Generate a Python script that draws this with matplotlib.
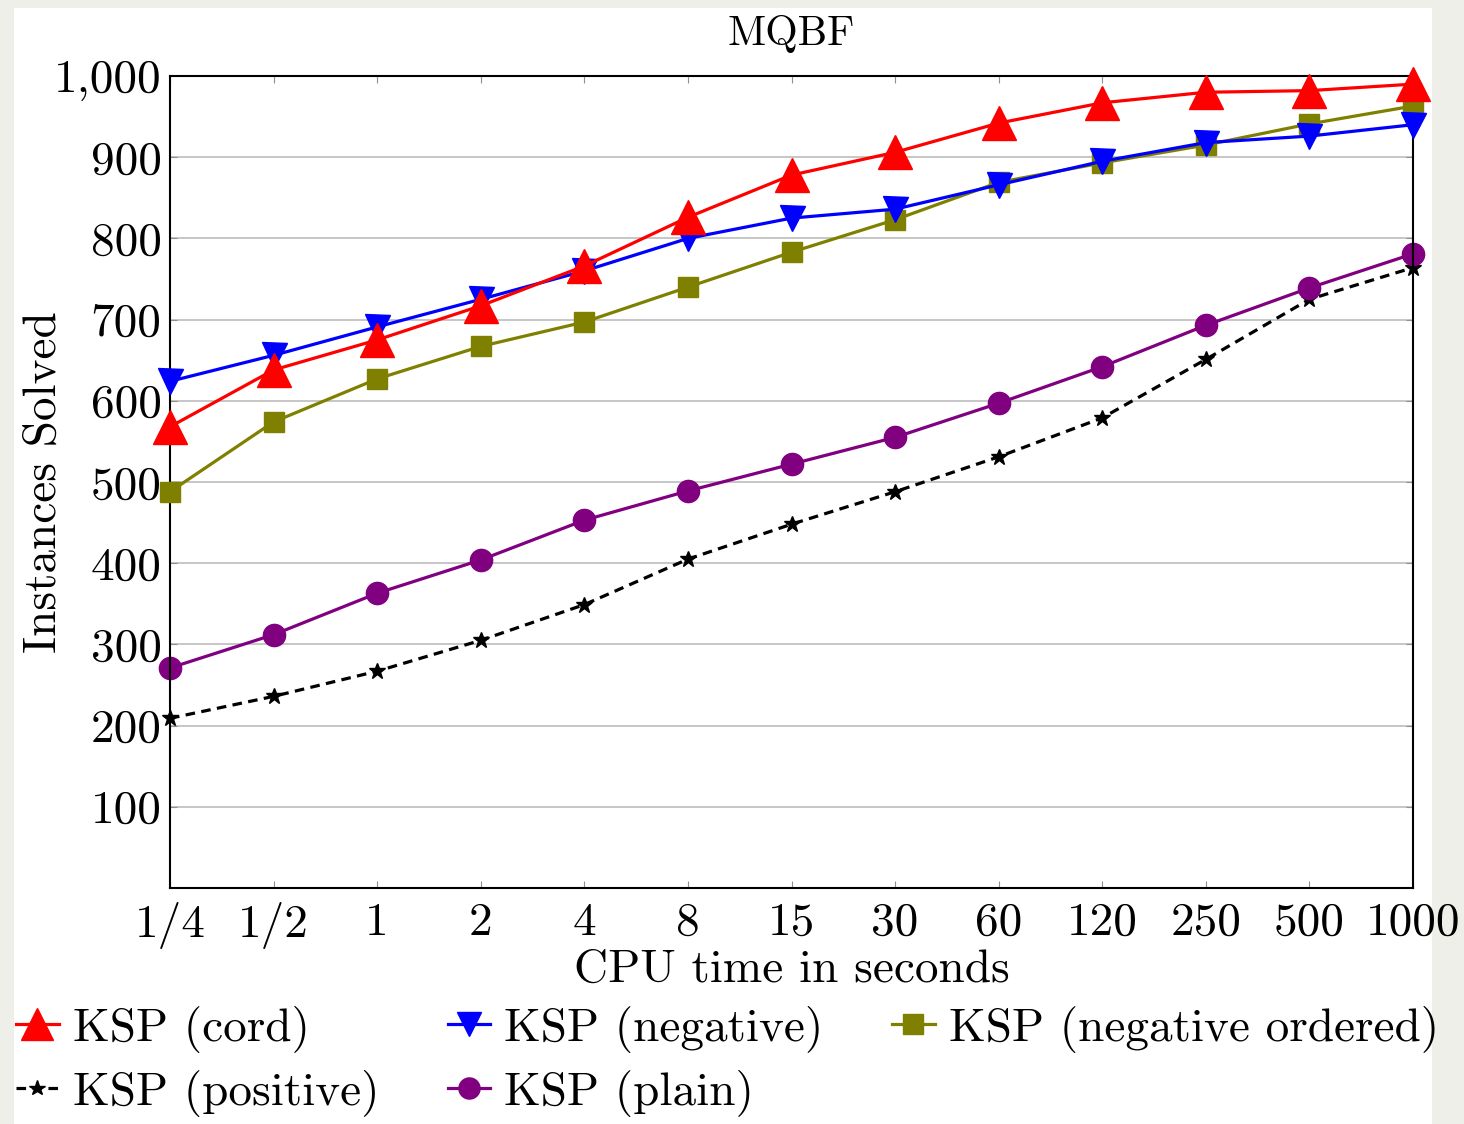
import matplotlib
matplotlib.use("Agg")
import matplotlib.pyplot as plt
from matplotlib.patches import Rectangle

plt.rcParams['font.family'] = ['cmr10', 'DejaVu Serif']
plt.rcParams['axes.formatter.use_mathtext'] = True
plt.rcParams['mathtext.fontset'] = 'cm'

# data
time_labels = ["1/4", "1/2", "1", "2", "4", "8", "15", "30", "60", "120", "250", "500", "1000"]
ksp_cord = [568, 638, 675, 717, 766, 826, 878, 906, 942, 967, 980, 982, 990]
ksp_negative = [624, 656, 691, 725, 760, 800, 825, 836, 866, 895, 918, 926, 940]
ksp_neg_ordered = [488, 574, 627, 667, 697, 740, 783, 823, 869, 893, 915, 941, 963]
ksp_positive = [209, 236, 267, 305, 349, 405, 448, 488, 531, 579, 651, 725, 764]
ksp_plain = [271, 312, 363, 404, 453, 489, 522, 555, 597, 642, 693, 739, 781]

y_ticks = [100, 200, 300, 400, 500, 600, 700, 800, 900, 1000]
y_tick_labels = ["100", "200", "300", "400", "500", "600", "700", "800", "900", "1,000"]

fig = plt.figure(figsize=(14.64, 11.24), dpi=100, facecolor='#efefea')
# white page area inside the grey surround
fig.patches.append(Rectangle((14 / 1464, 0), (1432 - 14) / 1464, 1 - 8 / 1124,
                             transform=fig.transFigure, facecolor='white',
                             edgecolor='none', zorder=-5))

ax = fig.add_axes([170 / 1464, 1 - 888 / 1124, (1413 - 170) / 1464, (888 - 76) / 1124])
x = list(range(len(time_labels)))

ax.grid(axis='y', color='#bcbcbc', linewidth=1.2, zorder=0)
ax.set_axisbelow(True)

l_cord, = ax.plot(x, ksp_cord, color='#ff0000', lw=2.3, marker='^', ms=24,
                  label='KSP (cord)', clip_on=False, zorder=5)
l_neg, = ax.plot(x, ksp_negative, color='#0000ff', lw=2.3, marker='v', ms=18,
                 label='KSP (negative)', clip_on=False, zorder=4)
l_nord, = ax.plot(x, ksp_neg_ordered, color='#808000', lw=2.3, marker='s', ms=15,
                  label='KSP (negative ordered)', clip_on=False, zorder=3)
l_pos, = ax.plot(x, ksp_positive, color='black', lw=2.3, ls=(0, (3, 2)), marker='*', ms=12,
                 label='KSP (positive)', clip_on=False, zorder=2)
l_plain, = ax.plot(x, ksp_plain, color='#800080', lw=2.3, marker='o', ms=16,
                   label='KSP (plain)', clip_on=False, zorder=2)

ax.set_xlim(0, len(time_labels) - 1)
ax.set_ylim(0, 1000)
ax.set_xticks(x)
ax.set_xticklabels(time_labels)
ax.set_yticks(y_ticks)
ax.set_yticklabels(y_tick_labels)
ax.tick_params(axis='both', labelsize=34, direction='in', length=5, color='#909090')
ax.tick_params(axis='y', right=True, pad=6)
ax.tick_params(axis='x', top=True, pad=10)
for s in ax.spines.values():
    s.set_linewidth(1.5)

ax.set_xlabel('CPU time in seconds', fontsize=34, labelpad=0)
ax.set_ylabel('Instances Solved', fontsize=34, labelpad=-8)
ax.set_title('MQBF', fontsize=30, pad=22)

fig.legend(handles=[l_cord, l_pos, l_neg, l_plain, l_nord],
           loc='upper left', bbox_to_anchor=(16 / 1464, 1 - 1006 / 1124),
           ncol=3, frameon=False, fontsize=34, handlelength=0.9,
           handletextpad=0.3, columnspacing=1.45, labelspacing=0.35,
           borderaxespad=0, borderpad=0, markerscale=0.95)

fig.savefig('out.png', dpi=100, facecolor=fig.get_facecolor())
